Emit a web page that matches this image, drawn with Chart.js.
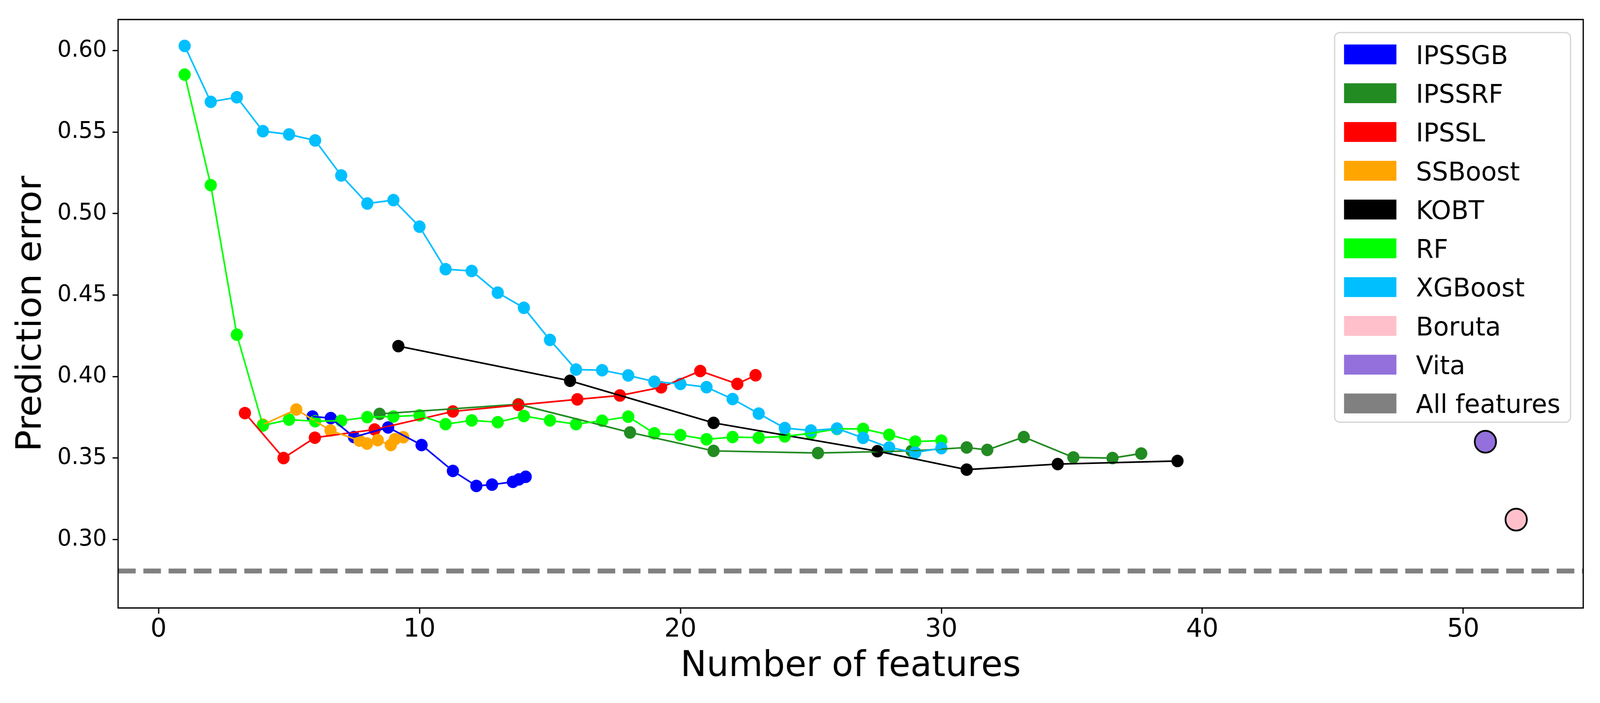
<!DOCTYPE html>
<html>
<head>
<meta charset="utf-8">
<title>Prediction error vs number of features</title>
<script src="https://cdn.jsdelivr.net/npm/chart.js@4.4.1/dist/chart.umd.min.js"></script>
<style>
    html, body { margin: 0; padding: 0; background: #ffffff; overflow: hidden; }
    #errorChart { display: block; }
</style>
</head>
<body>
<canvas id="errorChart" width="4200" height="1800" style="width: 100vw; height: 100vh;"></canvas>
<script>
// Values

const ipssgbX = [5.90, 6.60, 7.49, 8.80, 10.08, 11.28, 12.18, 12.78, 13.58, 13.81, 14.07];
const ipssgbY = [0.3755, 0.3745, 0.3629, 0.3688, 0.3580, 0.3421, 0.3329, 0.3337, 0.3354, 0.3369, 0.3385];

const ipssrfX = [8.47, 13.79, 18.07, 21.27, 25.27, 28.86, 30.97, 31.76, 33.16, 35.06, 36.56, 37.66];
const ipssrfY = [0.3771, 0.3830, 0.3657, 0.3544, 0.3531, 0.3544, 0.3565, 0.3550, 0.3629, 0.3504, 0.3500, 0.3528];

const ipsslX = [3.31, 4.79, 5.99, 8.28, 11.28, 13.79, 16.05, 17.68, 19.26, 20.76, 22.18, 22.88];
const ipsslY = [0.3776, 0.3500, 0.3625, 0.3675, 0.3786, 0.3826, 0.3860, 0.3884, 0.3934, 0.4034, 0.3955, 0.4008];

const ssboostX = [4.00, 5.28, 6.59, 7.70, 7.99, 8.40, 8.90, 9.06, 9.38];
const ssboostY = [0.3705, 0.3798, 0.3669, 0.3607, 0.3589, 0.3610, 0.3580, 0.3616, 0.3628];

const kobtX = [9.19, 15.77, 21.27, 27.55, 30.97, 34.46, 39.05];
const kobtY = [0.4187, 0.3974, 0.3716, 0.3542, 0.3429, 0.3463, 0.3482];

const rfX = [1, 2, 3, 4, 5, 6, 7, 8, 9, 10, 11, 12, 13, 14, 15,
             16, 17, 18, 19, 20, 21, 22, 23, 24, 25, 26, 27, 28, 29, 30];
const rfY = [0.5853, 0.5175, 0.4257, 0.3700, 0.3736, 0.3726, 0.3729, 0.3751, 0.3755, 0.3762,
             0.3708, 0.3731, 0.3720, 0.3758, 0.3731, 0.3708, 0.3729, 0.3754, 0.3652, 0.3641,
             0.3615, 0.3629, 0.3625, 0.3633, 0.3652, 0.3679, 0.3679, 0.3643, 0.3601, 0.3607];

const xgboostX = [1, 2, 3, 4, 5, 6, 7, 8, 9, 10, 11, 12, 13, 14, 15,
                  16, 17, 18, 19, 20, 21, 22, 23, 24, 25, 26, 27, 28, 29, 30];
const xgboostY = [0.6029, 0.5686, 0.5714, 0.5506, 0.5486, 0.5449, 0.5234, 0.5062, 0.5083, 0.4920,
                  0.4659, 0.4648, 0.4515, 0.4422, 0.4225, 0.4043, 0.4039, 0.4007, 0.3969, 0.3955,
                  0.3935, 0.3862, 0.3773, 0.3684, 0.3669, 0.3681, 0.3624, 0.3565, 0.3534, 0.3561];

const borutaX = [52.03];
const borutaY = [0.3122];
const vitaX = [50.85];
const vitaY = [0.3600];

const allFeaturesError = 0.2807;

const xTickValues = [0, 10, 20, 30, 40, 50];
const yTickValues = [0.30, 0.35, 0.40, 0.45, 0.50, 0.55, 0.60];
const xLimits = [-1.55, 54.6];
const yLimits = [0.258, 0.6191];

// Figure styling (300 dpi: 1pt = 4.17px)
const FONT = '"DejaVu Sans", sans-serif';
const PT = 300 / 72;
const LEGEND_SIZE = 16 * PT;

// Series in legend order; layer = stacking of the markers (bottom -> top)
const series = [
    { label: 'IPSSGB',  color: '#0000ff', xs: ipssgbX,  ys: ipssgbY,  layer: 2 },
    { label: 'IPSSRF',  color: '#228b22', xs: ipssrfX,  ys: ipssrfY,  layer: 0 },
    { label: 'IPSSL',   color: '#ff0000', xs: ipsslX,   ys: ipsslY,   layer: 1 },
    { label: 'SSBoost', color: '#ffa500', xs: ssboostX, ys: ssboostY, layer: 3 },
    { label: 'KOBT',    color: '#000000', xs: kobtX,    ys: kobtY,    layer: 4 },
    { label: 'RF',      color: '#00ff00', xs: rfX,      ys: rfY,      layer: 5 },
    { label: 'XGBoost', color: '#00bfff', xs: xgboostX, ys: xgboostY, layer: 6 }
];

const singles = [
    { label: 'Boruta', color: '#ffc0cb', xs: borutaX, ys: borutaY },
    { label: 'Vita',   color: '#9370db', xs: vitaX,   ys: vitaY }
];

const legendItems = series.concat(singles).map(s => ({ label: s.label, color: s.color }))
    .concat([{ label: 'All features', color: '#808080' }]);

function toPoints(xs, ys) {
    return xs.map((x, i) => ({ x: x, y: ys[i] }));
}

function buildDatasets() {
    const datasets = [];

    // Markers sit under all lines (scatter + plot in the original)
    series.forEach(s => {
        datasets.push({
            label: s.label + ' markers',
            data: toPoints(s.xs, s.ys),
            showLine: false,
            pointRadius: 16,
            pointBorderWidth: 0,
            pointBackgroundColor: s.color,
            pointBorderColor: s.color,
            order: 200 - s.layer
        });
    });

    series.forEach(s => {
        datasets.push({
            label: s.label,
            data: toPoints(s.xs, s.ys),
            showLine: true,
            borderColor: s.color,
            borderWidth: 1 * PT,
            borderJoinStyle: 'round',
            pointRadius: 0,
            order: 100 - s.layer
        });
    });

    datasets.push({
        label: 'All features',
        data: [{ x: xLimits[0], y: allFeaturesError }, { x: xLimits[1], y: allFeaturesError }],
        showLine: true,
        borderColor: '#808080',
        borderWidth: 3 * PT,
        borderDash: [3.7 * 3 * PT, 1.6 * 3 * PT],
        pointRadius: 0,
        order: 50
    });

    singles.forEach((s, i) => {
        datasets.push({
            label: s.label,
            data: toPoints(s.xs, s.ys),
            showLine: false,
            pointRadius: 28,
            pointBorderWidth: 4.5,
            pointBackgroundColor: s.color,
            pointBorderColor: '#000000',
            order: 10 - i
        });
    });

    return datasets;
}

// Full box around the plot area
const frameBox = {
    id: 'frameBox',
    afterDatasetsDraw(chart) {
        const { ctx, chartArea } = chart;
        ctx.save();
        ctx.strokeStyle = '#000000';
        ctx.lineWidth = 0.8 * PT;
        ctx.strokeRect(chartArea.left, chartArea.top,
            chartArea.right - chartArea.left, chartArea.bottom - chartArea.top);
        ctx.restore();
    }
};

function roundedRect(ctx, x, y, w, h, r) {
    ctx.beginPath();
    ctx.moveTo(x + r, y);
    ctx.lineTo(x + w - r, y);
    ctx.arcTo(x + w, y, x + w, y + r, r);
    ctx.lineTo(x + w, y + h - r);
    ctx.arcTo(x + w, y + h, x + w - r, y + h, r);
    ctx.lineTo(x + r, y + h);
    ctx.arcTo(x, y + h, x, y + h - r, r);
    ctx.lineTo(x, y + r);
    ctx.arcTo(x, y, x + r, y, r);
    ctx.closePath();
}

// Matplotlib-like legend with patch handles, upper right inside the axes
const boxLegend = {
    id: 'boxLegend',
    afterDraw(chart) {
        const { ctx, chartArea } = chart;
        const em = LEGEND_SIZE;
        const pad = 0.4 * em;
        const handleW = 2 * em;
        const textPad = 0.8 * em;
        const rowGap = 99.3;
        const firstRow = 56;

        ctx.save();
        ctx.font = em + 'px ' + FONT;
        const textW = Math.max(...legendItems.map(it => ctx.measureText(it.label).width));
        const width = pad + handleW + textPad + textW + pad;
        const height = firstRow * 2 + rowGap * (legendItems.length - 1) - 8;
        const right = chartArea.right - 0.5 * em;
        const top = chartArea.top + 0.5 * em;
        const left = right - width;

        roundedRect(ctx, left, top, width, height, 0.2 * em);
        ctx.fillStyle = 'rgba(255,255,255,0.8)';
        ctx.fill();
        ctx.lineWidth = 0.8 * PT;
        ctx.strokeStyle = 'rgba(204,204,204,0.8)';
        ctx.stroke();

        const edge = 1 * PT;
        legendItems.forEach((item, i) => {
            const cy = top + firstRow + i * rowGap;
            ctx.fillStyle = item.color;
            ctx.fillRect(left + pad - edge / 2, cy - 0.35 * em - edge / 2, handleW + edge, 0.7 * em + edge);
            ctx.fillStyle = '#000000';
            ctx.textBaseline = 'alphabetic';
            ctx.fillText(item.label, left + pad + handleW + textPad, cy + 0.3645 * em);
        });
        ctx.restore();
    }
};

function initializeChart() {
    Chart.defaults.font.family = FONT;
    Chart.defaults.color = '#000000';

    const ctx = document.getElementById('errorChart');
    new Chart(ctx, {
        type: 'scatter',
        data: { datasets: buildDatasets() },
        options: {
            responsive: false,
            devicePixelRatio: 1,
            animation: false,
            events: [],
            layout: { padding: { left: 0, top: 45, right: 44, bottom: 0 } },
            plugins: {
                legend: { display: false },
                tooltip: { enabled: false }
            },
            scales: {
                x: {
                    type: 'linear',
                    min: xLimits[0],
                    max: xLimits[1],
                    afterBuildTicks: scale => { scale.ticks = xTickValues.map(v => ({ value: v })); },
                    afterFit: scale => { scale.height = 243.3; },
                    border: { display: false },
                    grid: {
                        drawOnChartArea: false,
                        drawTicks: true,
                        tickLength: 3.5 * PT,
                        tickWidth: 0.8 * PT,
                        tickColor: '#000000'
                    },
                    ticks: {
                        font: { size: 16 * PT },
                        padding: 1,
                        maxRotation: 0,
                        callback: value => String(value)
                    },
                    title: {
                        display: true,
                        text: 'Number of features',
                        font: { size: 22 * PT },
                        padding: { top: 0, bottom: 38 }
                    }
                },
                y: {
                    type: 'linear',
                    min: yLimits[0],
                    max: yLimits[1],
                    afterBuildTicks: scale => { scale.ticks = yTickValues.map(v => ({ value: v })); },
                    afterFit: scale => { scale.width = 310; },
                    border: { display: false },
                    grid: {
                        drawOnChartArea: false,
                        drawTicks: true,
                        tickLength: 3.5 * PT,
                        tickWidth: 0.8 * PT,
                        tickColor: '#000000'
                    },
                    ticks: {
                        font: { size: 14 * PT },
                        padding: 15,
                        callback: value => value.toFixed(2)
                    },
                    title: {
                        display: true,
                        text: 'Prediction error',
                        font: { size: 22 * PT },
                        padding: { top: 28, bottom: 0 }
                    }
                }
            }
        },
        plugins: [frameBox, boxLegend]
    });
}

document.addEventListener('DOMContentLoaded', initializeChart);
</script>
</body>
</html>
